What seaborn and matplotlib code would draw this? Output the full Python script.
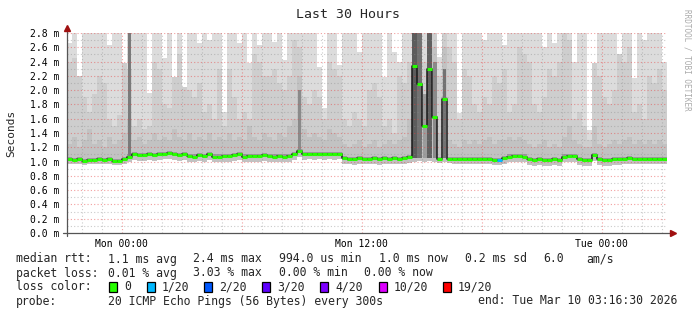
import numpy as np
import pandas as pd
import matplotlib
matplotlib.use("Agg")
import matplotlib.pyplot as plt
import matplotlib.dates as mdates
import matplotlib.patches as mpatches
import seaborn as sns

# ---------------- data (15-minute steps, values in ms) ----------------
median_ms = [1.03, 1.02, 1.04, 1.01, 1.02, 1.02, 1.03, 1.02, 1.04, 1.01,
             1.01, 1.03, 1.07, 1.10, 1.09, 1.09, 1.10, 1.09, 1.10, 1.11,
             1.12, 1.10, 1.09, 1.10, 1.08, 1.07, 1.09, 1.08, 1.10, 1.07,
             1.07, 1.08, 1.08, 1.09, 1.10, 1.07, 1.08, 1.08, 1.08, 1.09,
             1.08, 1.07, 1.08, 1.07, 1.08, 1.10, 1.15, 1.10, 1.11, 1.10,
             1.11, 1.10, 1.11, 1.10, 1.11, 1.05, 1.04, 1.03, 1.05, 1.04,
             1.04, 1.05, 1.03, 1.05, 1.04, 1.05, 1.04, 1.05, 1.06, 2.34,
             2.08, 1.50, 2.30, 1.62, 1.04, 1.88, 1.04, 1.04, 1.03, 1.04,
             1.04, 1.03, 1.04, 1.03, 1.03, 1.02, 1.02, 1.05, 1.07, 1.08,
             1.08, 1.07, 1.03, 1.02, 1.03, 1.02, 1.02, 1.03, 1.02, 1.07,
             1.08, 1.08, 1.03, 1.02, 1.02, 1.09, 1.03, 1.02, 1.02, 1.03,
             1.03, 1.04, 1.05, 1.04, 1.04, 1.04, 1.04, 1.04, 1.04, 1.04]

loss_count = [0] * 86 + [1] + [0] * 33

min_ms = [0.96, 0.97, 0.96, 0.95, 0.96, 0.96, 0.97, 0.96, 0.96, 0.95,
          0.95, 0.96, 0.99, 1.02, 1.01, 1.01, 1.02, 1.01, 1.02, 1.03,
          1.03, 1.02, 1.01, 1.02, 1.00, 0.99, 1.01, 1.00, 1.02, 0.99,
          0.99, 1.00, 1.00, 1.01, 1.02, 0.99, 1.00, 1.00, 1.00, 1.01,
          1.00, 0.99, 1.00, 0.99, 1.00, 1.02, 1.06, 1.02, 1.03, 1.02,
          1.03, 1.02, 1.03, 1.02, 1.03, 0.97, 0.96, 0.95, 0.97, 0.96,
          0.96, 0.97, 0.95, 0.97, 0.96, 0.97, 0.96, 0.97, 0.98, 1.00,
          1.01, 1.00, 1.01, 1.00, 0.98, 0.99, 0.98, 0.97, 0.96, 0.97,
          0.97, 0.96, 0.97, 0.96, 0.96, 0.95, 0.95, 0.97, 0.99, 1.00,
          1.00, 0.99, 0.95, 0.94, 0.95, 0.94, 0.94, 0.95, 0.94, 0.99,
          1.00, 1.00, 0.95, 0.94, 0.94, 1.01, 0.95, 0.94, 0.94, 0.95,
          0.95, 0.96, 0.97, 0.96, 0.96, 0.96, 0.96, 0.96, 0.96, 0.96]

max_ms = [2.66, 3.0, 2.20, 3.0, 3.0, 3.0, 3.0, 3.0, 2.63, 3.0,
          3.0, 2.38, 3.0, 3.0, 3.0, 3.0, 1.96, 3.0, 3.0, 2.45,
          3.0, 2.18, 3.0, 2.04, 3.0, 3.0, 2.66, 3.0, 2.70, 3.0,
          3.0, 1.69, 3.0, 3.0, 2.66, 3.0, 2.38, 3.0, 2.63, 3.0,
          3.0, 2.67, 3.0, 2.42, 3.0, 3.0, 3.0, 3.0, 3.0, 3.0,
          2.33, 1.75, 3.0, 3.0, 2.35, 3.0, 3.0, 3.0, 2.53, 3.0,
          3.0, 3.0, 3.0, 2.18, 3.0, 2.53, 2.40, 3.0, 3.0, 3.0,
          3.0, 3.0, 3.0, 3.0, 2.46, 3.0, 3.0, 3.0, 1.68, 3.0,
          3.0, 3.0, 3.0, 2.70, 3.0, 3.0, 3.0, 2.63, 3.0, 3.0,
          3.0, 3.0, 3.0, 3.0, 3.0, 2.60, 3.0, 2.66, 3.0, 3.0,
          3.0, 2.39, 3.0, 3.0, 1.44, 2.38, 3.0, 3.0, 3.0, 3.0,
          2.50, 3.0, 3.0, 2.17, 3.0, 2.70, 3.0, 3.0, 3.0, 2.40]

upper_ms = [2.40, 2.45, 2.20, 1.90, 1.70, 1.95, 2.20, 2.10, 1.60, 1.50,
            1.65, 2.38, 2.30, 1.50, 1.60, 1.45, 1.50, 2.40, 2.30, 1.80,
            1.75, 2.18, 2.50, 2.04, 2.00, 1.90, 2.10, 1.70, 1.80, 1.60,
            2.30, 1.50, 2.30, 1.90, 1.60, 1.70, 1.60, 2.50, 2.40, 2.20,
            2.20, 2.30, 2.10, 2.00, 2.20, 2.70, 2.60, 1.90, 1.80, 2.00,
            1.90, 1.60, 2.40, 2.30, 2.20, 1.60, 1.50, 1.70, 1.60, 1.50,
            2.00, 2.10, 1.90, 1.50, 1.60, 1.40, 2.20, 2.10, 2.40, 3.00,
            3.00, 2.40, 3.00, 3.00, 2.20, 3.00, 2.60, 2.40, 1.60, 2.30,
            2.20, 1.80, 1.70, 1.90, 1.80, 2.20, 2.10, 2.30, 1.70, 1.80,
            2.60, 2.50, 2.40, 1.80, 1.70, 1.90, 2.30, 2.20, 2.40, 2.80,
            2.70, 1.60, 1.70, 1.50, 1.30, 2.38, 2.20, 1.90, 1.80, 2.00,
            2.50, 2.40, 2.60, 1.70, 1.80, 1.60, 2.20, 2.10, 2.30, 2.00]

mid_ms = [1.25, 1.35, 1.20, 1.30, 1.45, 1.25, 1.30, 1.20, 1.35, 1.25,
          1.30, 1.40, 1.60, 1.30, 1.35, 1.25, 1.30, 1.40, 1.30, 1.35,
          1.30, 1.45, 1.35, 1.30, 1.40, 1.30, 1.35, 1.30, 1.40, 1.30,
          1.35, 1.30, 1.40, 1.30, 1.35, 1.30, 1.50, 1.35, 1.30, 1.40,
          1.35, 1.30, 1.40, 1.35, 1.50, 1.60, 2.20, 1.45, 1.35, 1.40,
          1.35, 1.30, 1.45, 1.40, 1.35, 1.25, 1.20, 1.25, 1.30, 1.20,
          1.25, 1.30, 1.20, 1.25, 1.30, 1.25, 1.30, 1.35, 1.60, 3.00,
          3.00, 1.80, 3.00, 2.60, 1.40, 2.60, 1.30, 1.25, 1.20, 1.30,
          1.25, 1.30, 1.25, 1.30, 1.35, 1.25, 1.30, 1.30, 1.35, 1.30,
          1.35, 1.30, 1.25, 1.20, 1.25, 1.30, 1.20, 1.25, 1.20, 1.35,
          1.50, 1.30, 1.25, 1.20, 1.20, 1.50, 1.25, 1.20, 1.25, 1.30,
          1.25, 1.30, 1.35, 1.25, 1.30, 1.25, 1.30, 1.25, 1.30, 1.25]

# dense (dark) smoke reaching far up: step, bottom, top, share of step width, grey
dense_step = [12, 46, 69, 70, 71, 72, 73, 75]
dense_bot = [1.05, 1.12, 1.05, 1.05, 1.05, 1.05, 1.05, 1.05]
dense_top = [2.85, 2.00, 2.85, 2.85, 1.95, 2.85, 2.40, 2.30]
dense_width = [0.45, 0.45, 0.9, 0.9, 0.8, 0.9, 0.8, 0.6]
dense_grey = ["#7a7a7a", "#8a8a8a", "#5c5c5c", "#727272", "#9c9c9c", "#606060", "#8a8a8a", "#727272"]

loss_levels = [0, 1, 2, 3, 4, 10, 19]
loss_labels = ["0", "1/20", "2/20", "3/20", "4/20", "10/20", "19/20"]
loss_colors = ["#26ff00", "#00b8ff", "#0059ff", "#5e00ff", "#7e00ff", "#dd00ff", "#ff0000"]

y_ticks = [0.0, 0.2, 0.4, 0.6, 0.8, 1.0, 1.2, 1.4, 1.6, 1.8, 2.0, 2.2, 2.4, 2.6, 2.8]

t_start = pd.Timestamp("2026-03-08 21:16:30")
t_end = pd.Timestamp("2026-03-10 03:16:30")

# ---------------- figure ----------------
sns.set_theme(style="white")
plt.rcParams["font.family"] = ["DejaVu Sans Mono"]

W, H = 697, 315
fig = plt.figure(figsize=(W / 100, H / 100), dpi=100)
fig.patch.set_facecolor("white")
ax = fig.add_axes([67 / W, (H - 233) / H, 600 / W, 200 / H])
ax.set_facecolor("white")

n = len(median_ms)
edges = pd.date_range(t_start, periods=n + 1, freq="15min")
xe = mdates.date2num(edges.to_pydatetime())


def ext(a):
    return list(a) + [a[-1]]


ax.fill_between(xe, ext(min_ms), ext(max_ms), step="post", color="#dcdcdc", lw=0, zorder=1)
ax.fill_between(xe, ext(min_ms), ext(upper_ms), step="post", color="#cecece", lw=0, zorder=1.1)
ax.fill_between(xe, ext(min_ms), ext(mid_ms), step="post", color="#c2c2c2", lw=0, zorder=1.2)
med = np.array(median_ms)
ax.fill_between(xe, ext(list(med - 0.025)), ext(list(med + 0.03)), step="post",
                color="#9a9a9a", lw=0, zorder=1.3)
for s, b, t, w, g in zip(dense_step, dense_bot, dense_top, dense_width, dense_grey):
    xa = xe[s] + (xe[s + 1] - xe[s]) * (1 - w) / 2
    xb = xe[s + 1] - (xe[s + 1] - xe[s]) * (1 - w) / 2
    ax.fill_between([xa, xb], [b, b], [t, t], color=g, lw=0, zorder=1.35)

df = pd.DataFrame({"t": xe, "median": ext(median_ms)})
sns.lineplot(data=df, x="t", y="median", drawstyle="steps-post", color="#1a1a1a",
             lw=1.1, ax=ax, zorder=3, estimator=None)


def loss_color(c):
    col = loss_colors[0]
    for lv, cc in zip(loss_levels, loss_colors):
        if c >= lv:
            col = cc
    return col


seg_cols = [loss_color(c) for c in loss_count]
ax.hlines(median_ms, xe[:-1], xe[1:], colors=seg_cols, lw=2.2, zorder=4)

x0 = mdates.date2num(t_start.to_pydatetime())
x1 = mdates.date2num(t_end.to_pydatetime())
ax.set_xlim(x0, x1)
ax.set_ylim(0, 2.8)

# grid
hours = pd.date_range(t_start.ceil("h"), t_end, freq="h")
for h in hours:
    xv = mdates.date2num(h.to_pydatetime())
    if h.hour % 6 == 0:
        ax.axvline(xv, color=(0.9, 0.25, 0.25, 0.5), lw=0.8, ls=(0, (1, 2)), zorder=2.5)
    else:
        ax.axvline(xv, color=(0.55, 0.55, 0.55, 0.45), lw=0.8, ls=(0, (1, 2)), zorder=2.5)
for k in range(1, 29):
    yv = k / 10
    if k % 2 == 0:
        ax.axhline(yv, color=(0.9, 0.25, 0.25, 0.5), lw=0.8, ls=(0, (1, 2)), zorder=2.5)
    else:
        ax.axhline(yv, color=(0.55, 0.55, 0.55, 0.45), lw=0.8, ls=(0, (1, 2)), zorder=2.5)

for sp in ax.spines.values():
    sp.set_visible(False)

# axes lines with arrows
ax.plot([-4 / 600, 603 / 600], [0, 0], transform=ax.transAxes, color="#555555", lw=0.9,
        clip_on=False, zorder=5)
ax.plot([0, 0], [-3 / 200, 203 / 200], transform=ax.transAxes, color="#555555", lw=0.9,
        clip_on=False, zorder=5)
ax.plot([606 / 600], [0], marker=">", ms=4.5, color="#a01010", transform=ax.transAxes,
        clip_on=False, zorder=6, mec="#a01010")
ax.plot([0], [205 / 200], marker="^", ms=4.5, color="#a01010", transform=ax.transAxes,
        clip_on=False, zorder=6, mec="#a01010")

ax.xaxis.set_major_locator(mdates.HourLocator(byhour=[0, 12]))
ax.xaxis.set_major_formatter(mdates.DateFormatter("%a %H:%M"))
ax.xaxis.set_minor_locator(mdates.HourLocator())
ax.set_yticks(y_ticks)
ax.set_yticklabels([f"{v:.1f} m" for v in y_ticks])
ax.set_yticks([k / 10 for k in range(1, 29, 2)], minor=True)
ax.tick_params(axis="both", which="major", length=3, width=0.8, color="#555555",
               direction="inout", labelsize=7, labelcolor="#000000", pad=3)
ax.tick_params(axis="both", which="minor", length=2, width=0.8, color="#555555",
               direction="inout")
ax.tick_params(axis="y", which="major", pad=4)
ax.set_xlabel("")
ax.set_ylabel("")

# texts
fig.text(348 / W, 1 - 14 / H, "Last 30 Hours", ha="center", va="center", fontsize=9.5)
fig.text(11 / W, 1 - 133 / H, "Seconds", ha="center", va="center", rotation=90, fontsize=8)
fig.text(687 / W, 1 - 60 / H, "RRDTOOL / TOBI OETIKER", ha="center", va="center",
         rotation=270, fontsize=5.5, color="#aaaaaa")

fs = 8.3


def put(x, y, s):
    fig.text(x / W, 1 - y / H, s, ha="left", va="center", fontsize=fs)


put(16, 259, "median rtt:")
put(108, 259, "1.1 ms avg")
put(193, 259, "2.4 ms max")
put(279, 259, "994.0 us min")
put(379, 259, "1.0 ms now")
put(465, 259, "0.2 ms sd")
put(543, 259, "6.0")
put(586, 259, "am/s")

put(16, 273, "packet loss:")
put(108, 273, "0.01 % avg")
put(193, 273, "3.03 % max")
put(279, 273, "0.00 % min")
put(364, 273, "0.00 % now")

put(16, 287, "loss color:")
box_x = [109, 147, 204, 262, 320, 379, 443]
for bx, lab, col in zip(box_x, loss_labels, loss_colors):
    fig.patches.append(mpatches.Rectangle((bx / W, 1 - 292 / H), 8 / W, 10 / H,
                                          transform=fig.transFigure, fc=col, ec="black",
                                          lw=0.9))
    put(bx + 15, 287, lab)

put(16, 301, "probe:")
put(108, 301, "20 ICMP Echo Pings (56 Bytes) every 300s")
put(478, 301, "end: Tue Mar 10 03:16:30 2026")

fig.savefig("out.png", dpi=100, facecolor="white")
